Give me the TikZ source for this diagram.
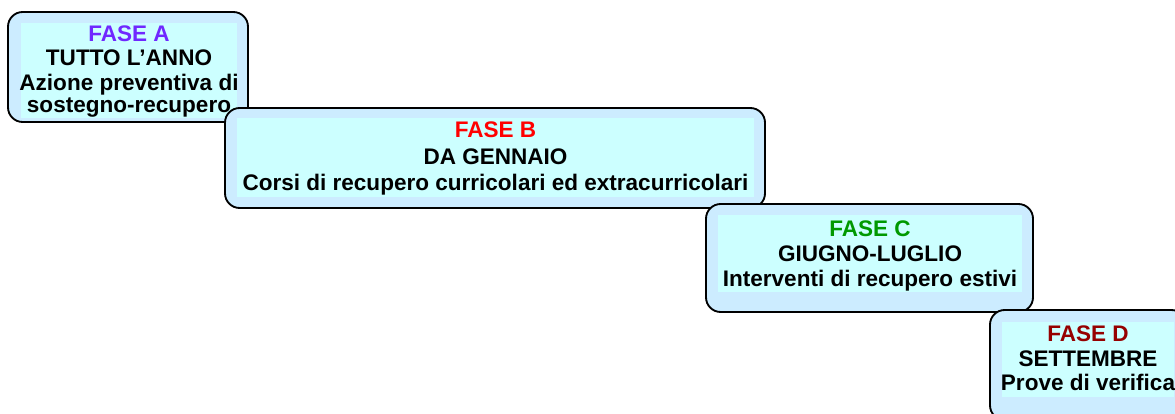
\documentclass[tikz,border=0pt]{standalone}
\usepackage{fontspec}
\setmainfont{Liberation Sans}
\definecolor{outerblue}{HTML}{CCECFF}
\definecolor{innercyan}{HTML}{CCFFFF}
\definecolor{faseA}{RGB}{112,40,255}
\definecolor{faseB}{RGB}{255,0,0}
\definecolor{faseC}{RGB}{0,153,0}
\definecolor{faseD}{RGB}{150,0,0}
\begin{document}
\begin{tikzpicture}[x=0.75pt,y=-0.75pt,
  outerbox/.style={draw=black, line width=1.4pt, fill=outerblue, rounded corners=11pt},
  innerbox/.style={fill=innercyan},
  txt/.style={anchor=base, inner sep=0pt, font=\fontsize{16.9}{20}\selectfont\bfseries}]
\useasboundingbox (0,0) rectangle (1175,414);
\clip (0,0) rectangle (1175,414);
% Fase A
\draw[outerbox] (8,12) rectangle (248,122);
\fill[innerbox] (21,23) rectangle (237,118);
\node[txt, text=faseA] (a1) at (129,41.7) {FASE A};
\node[txt] (a2) at (129,65.5) {TUTTO L’ANNO};
\node[txt] (a3) at (129,90) {Azione preventiva di};
\node[txt] (a4) at (129,112.5) {sostegno-recupero};
% Fase B
\draw[outerbox] (225,108) rectangle (765,208);
\fill[innerbox] (237,118) rectangle (754,197);
\node[txt, text=faseB] (b1) at (495.5,137.5) {FASE B};
\node[txt] (b2) at (495.5,164) {DA GENNAIO};
\node[txt] (b3) at (495.5,190.7) {Corsi di recupero curricolari ed extracurricolari};
% Fase C
\draw[outerbox] (706,204) rectangle (1033,312);
\fill[innerbox] (718,215) rectangle (1022,292);
\node[txt, text=faseC] (c1) at (870,236.7) {FASE C};
\node[txt] (c2) at (870,261.7) {GIUGNO-LUGLIO};
\node[txt] (c3) at (870,286.7) {Interventi di recupero estivi};
% Fase D
\draw[outerbox] (990,310) rectangle (1186,420);
\fill[innerbox] (1002,322) rectangle (1174,397);
\node[txt, text=faseD] (d1) at (1088,341.7) {FASE D};
\node[txt] (d2) at (1088,366.7) {SETTEMBRE};
\node[txt] (d3) at (1088,390.7) {Prove di verifica};
\end{tikzpicture}
\end{document}
